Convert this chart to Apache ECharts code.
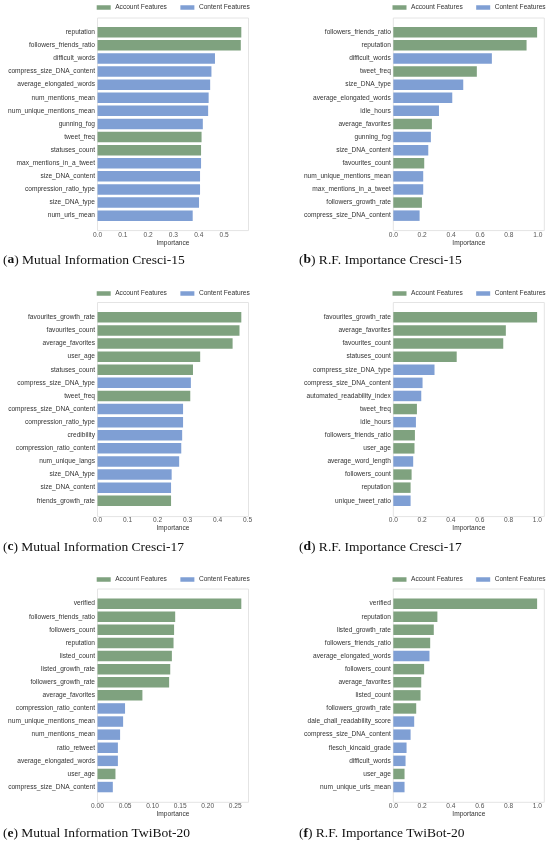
<!doctype html>
<html>
<head>
    <meta charset="utf-8">
    <title>Feature importance</title>
    <style>
        html, body { margin: 0; padding: 0; background: #fff; }
        #chart { width: 550px; height: 845px; }
    </style>
</head>
<body>
    <div id="chart"></div>
    <script src="https://cdn.jsdelivr.net/npm/echarts@6/dist/echarts.min.js"></script>
    <script>
        // A = account feature, C = content feature
        var miC15Names = ['reputation', 'followers_friends_ratio', 'difficult_words', 'compress_size_DNA_content',
            'average_elongated_words', 'num_mentions_mean', 'num_unique_mentions_mean', 'gunning_fog', 'tweet_freq',
            'statuses_count', 'max_mentions_in_a_tweet', 'size_DNA_content', 'compression_ratio_type', 'size_DNA_type',
            'num_urls_mean'];
        var miC15Values = [0.568, 0.566, 0.464, 0.450, 0.445, 0.439, 0.437, 0.416, 0.411, 0.409, 0.409, 0.405, 0.405, 0.401, 0.376];
        var miC15Types = ['A', 'A', 'C', 'C', 'C', 'C', 'C', 'C', 'A', 'A', 'C', 'C', 'C', 'C', 'C'];

        var rfC15Names = ['followers_friends_ratio', 'reputation', 'difficult_words', 'tweet_freq', 'size_DNA_type',
            'average_elongated_words', 'idle_hours', 'average_favorites', 'gunning_fog', 'size_DNA_content',
            'favourites_count', 'num_unique_mentions_mean', 'max_mentions_in_a_tweet', 'followers_growth_rate',
            'compress_size_DNA_content'];
        var rfC15Values = [0.995, 0.922, 0.682, 0.578, 0.484, 0.408, 0.316, 0.267, 0.260, 0.242, 0.214, 0.207, 0.207, 0.198, 0.182];
        var rfC15Types = ['A', 'A', 'C', 'A', 'C', 'C', 'C', 'A', 'C', 'C', 'A', 'C', 'C', 'A', 'C'];

        var miC17Names = ['favourites_growth_rate', 'favourites_count', 'average_favorites', 'user_age', 'statuses_count',
            'compress_size_DNA_type', 'tweet_freq', 'compress_size_DNA_content', 'compression_ratio_type', 'credibility',
            'compression_ratio_content', 'num_unique_langs', 'size_DNA_type', 'size_DNA_content', 'friends_growth_rate'];
        var miC17Values = [0.479, 0.473, 0.450, 0.342, 0.318, 0.311, 0.309, 0.285, 0.285, 0.282, 0.279, 0.272, 0.247, 0.245, 0.245];
        var miC17Types = ['A', 'A', 'A', 'A', 'A', 'C', 'A', 'C', 'C', 'C', 'C', 'C', 'C', 'C', 'A'];

        var rfC17Names = ['favourites_growth_rate', 'average_favorites', 'favourites_count', 'statuses_count',
            'compress_size_DNA_type', 'compress_size_DNA_content', 'automated_readability_index', 'tweet_freq',
            'idle_hours', 'followers_friends_ratio', 'user_age', 'average_word_length', 'followers_count', 'reputation',
            'unique_tweet_ratio'];
        var rfC17Values = [0.998, 0.781, 0.763, 0.440, 0.286, 0.203, 0.194, 0.164, 0.157, 0.150, 0.147, 0.138, 0.127, 0.120, 0.120];
        var rfC17Types = ['A', 'A', 'A', 'A', 'C', 'C', 'C', 'A', 'C', 'A', 'A', 'C', 'A', 'A', 'C'];

        var miT20Names = ['verified', 'followers_friends_ratio', 'followers_count', 'reputation', 'listed_count',
            'listed_growth_rate', 'followers_growth_rate', 'average_favorites', 'compression_ratio_content',
            'num_unique_mentions_mean', 'num_mentions_mean', 'ratio_retweet', 'average_elongated_words', 'user_age',
            'compress_size_DNA_content'];
        var miT20Values = [0.261, 0.141, 0.139, 0.138, 0.135, 0.132, 0.130, 0.0815, 0.050, 0.0465, 0.041, 0.037, 0.037, 0.0326, 0.0278];
        var miT20Types = ['A', 'A', 'A', 'A', 'A', 'A', 'A', 'A', 'C', 'C', 'C', 'C', 'C', 'A', 'C'];

        var rfT20Names = ['verified', 'reputation', 'listed_growth_rate', 'followers_friends_ratio',
            'average_elongated_words', 'followers_count', 'average_favorites', 'listed_count', 'followers_growth_rate',
            'dale_chall_readability_score', 'compress_size_DNA_content', 'flesch_kincaid_grade', 'difficult_words',
            'user_age', 'num_unique_urls_mean'];
        var rfT20Values = [0.998, 0.306, 0.281, 0.256, 0.251, 0.214, 0.194, 0.189, 0.159, 0.145, 0.120, 0.092, 0.085, 0.078, 0.078];
        var rfT20Types = ['A', 'A', 'A', 'A', 'C', 'A', 'A', 'A', 'A', 'C', 'C', 'C', 'C', 'A', 'C'];

        var captions = [
            ['a', 'Mutual Information Cresci-15'],
            ['b', 'R.F. Importance Cresci-15'],
            ['c', 'Mutual Information Cresci-17'],
            ['d', 'R.F. Importance Cresci-17'],
            ['e', 'Mutual Information TwiBot-20'],
            ['f', 'R.F. Importance TwiBot-20']
        ];

        var panels = [
            { names: miC15Names, values: miC15Values, types: miC15Types, interval: 0.1, dec: 1 },
            { names: rfC15Names, values: rfC15Values, types: rfC15Types, interval: 0.2, dec: 1 },
            { names: miC17Names, values: miC17Values, types: miC17Types, interval: 0.1, dec: 1 },
            { names: rfC17Names, values: rfC17Values, types: rfC17Types, interval: 0.2, dec: 1 },
            { names: miT20Names, values: miT20Values, types: miT20Types, interval: 0.05, dec: 2 },
            { names: rfT20Names, values: rfT20Values, types: rfT20Types, interval: 0.2, dec: 1 }
        ];

        var green = '#7fa27f';
        var blue = '#7f9fd4';
        var font = "'Liberation Sans', Arial, sans-serif";

        // layout: columns and rows (pixels)
        var colLeft = [97.5, 393.3];
        var plotWidth = 151;
        var rowGridTop = [25.7, 310.8, 597.1];
        var gridHeight = 196.5;
        var rowBoxTop = [18, 302.5, 589];
        var rowBoxBottom = [230.6, 516.6, 802.3];
        var rowLegendTop = [4, 290, 576];
        var rowCaptionTop = [253, 540, 826.5];
        var colCaptionLeft = [3, 299];

        var grids = [], xAxes = [], yAxes = [], series = [], legends = [], titles = [], graphics = [];

        panels.forEach(function (p, i) {
            var col = i % 2, row = Math.floor(i / 2);
            grids.push({
                left: colLeft[col], top: rowGridTop[row], width: plotWidth, height: gridHeight
            });
            graphics.push({
                type: 'rect',
                shape: { x: colLeft[col], y: rowBoxTop[row], width: plotWidth, height: rowBoxBottom[row] - rowBoxTop[row] },
                style: { fill: 'none', stroke: '#e4e4e4', lineWidth: 1 },
                z: -1
            });
            var maxV = Math.max.apply(null, p.values) * 1.05;
            xAxes.push({
                gridIndex: i,
                type: 'value',
                min: 0,
                max: maxV,
                interval: p.interval,
                axisLine: { show: false },
                axisTick: { show: false },
                splitLine: { show: false },
                axisLabel: {
                    fontSize: 6.6, color: '#555', margin: 9.5, showMaxLabel: false,
                    formatter: (function (d) { return function (v) { return v.toFixed(d); }; })(p.dec)
                },
                name: 'Importance',
                nameLocation: 'middle',
                nameGap: 17,
                nameTextStyle: { fontSize: 6.6, color: '#333' }
            });
            yAxes.push({
                gridIndex: i,
                type: 'category',
                data: p.names,
                inverse: true,
                axisLine: { show: false },
                axisTick: { show: false },
                axisLabel: { fontSize: 6.6, color: '#333', margin: 2.5, interval: 0 }
            });
            var acc = p.values.map(function (v, k) { return p.types[k] === 'A' ? v : '-'; });
            var con = p.values.map(function (v, k) { return p.types[k] === 'C' ? v : '-'; });
            series.push({
                name: 'Account Features', type: 'bar', xAxisIndex: i, yAxisIndex: i,
                stack: 'p' + i, barWidth: '80%', data: acc,
                itemStyle: { color: green }, animation: false
            });
            series.push({
                name: 'Content Features', type: 'bar', xAxisIndex: i, yAxisIndex: i,
                stack: 'p' + i, barWidth: '80%', data: con,
                itemStyle: { color: blue }, animation: false
            });
            legends.push({
                left: colLeft[col] - 0.8,
                top: rowLegendTop[row],
                padding: 0,
                itemWidth: 14,
                itemHeight: 4.5,
                itemGap: 13.5,
                icon: 'rect',
                selectedMode: false,
                data: ['Account Features', 'Content Features'],
                textStyle: { fontSize: 6.6, color: '#333', padding: [0, 0, 0, -0.5] }
            });
            titles.push({
                text: '({b|' + captions[i][0] + '}) ' + captions[i][1],
                left: colCaptionLeft[col],
                top: rowCaptionTop[row],
                padding: 0,
                textStyle: {
                    fontFamily: "'Liberation Serif', 'DejaVu Serif', serif",
                    fontSize: 13.5, fontWeight: 'normal', color: '#111',
                    rich: {
                        b: { fontFamily: "'Liberation Serif', 'DejaVu Serif', serif", fontSize: 13.5, fontWeight: 'bold', color: '#111' }
                    }
                }
            });
        });

        var myChart = echarts.init(document.getElementById('chart'));
        var option = {
            backgroundColor: '#fff',
            animation: false,
            textStyle: { fontFamily: font },
            title: titles,
            legend: legends,
            grid: grids,
            xAxis: xAxes,
            yAxis: yAxes,
            series: series,
            graphic: graphics
        };
        myChart.setOption(option);
    </script>
</body>
</html>
